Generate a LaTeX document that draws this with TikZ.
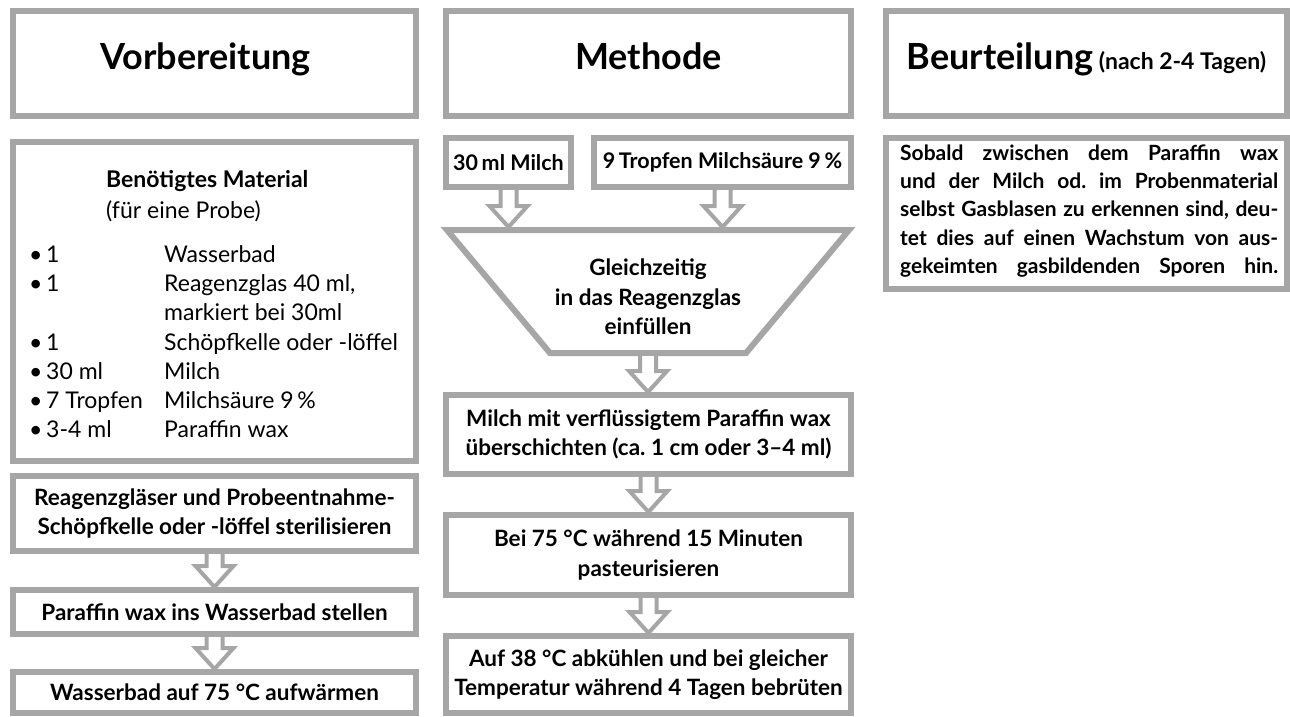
\documentclass[tikz,border=0pt]{standalone}
\usepackage{fontspec}
\setmainfont{Lato}
\usetikzlibrary{calc}
\definecolor{bord}{RGB}{166,166,166}
\frenchspacing
\tikzset{x=1pt,y=-1pt,
  box/.style={draw=bord, line width=6pt, fill=white, inner sep=0pt, line join=miter},
  txt/.style={font=\fontsize{22.5}{29.5}\selectfont\bfseries, align=center},
  stxt/.style={font=\fontsize{21.5}{29}\selectfont\bfseries},
  head/.style={font=\fontsize{36}{40}\selectfont\bfseries, text height=20pt, text depth=9pt},
  lst/.style={font=\fontsize{23}{29}\selectfont, anchor=base west, inner sep=0pt},
  lstb/.style={lst, font=\fontsize{23}{29}\selectfont\bfseries},
  par/.style={font=\fontsize{21}{28}\selectfont\bfseries, anchor=base west, inner sep=0pt},
  arrowline/.style={draw=bord, line width=4pt, fill=white, line join=miter},
  trap/.style={draw=bord, line width=6pt, fill=white, line join=miter}}
% #1 style, #2 name, #3 x1, #4 y1, #5 x2, #6 y2, #7 text
\newcommand{\flowbox}[7][txt]{%
  \node[box,#1,minimum width={(#5-#3-6)*1pt},minimum height={(#6-#4-6)*1pt}] (#2)
    at ({(#3+#5)/2},{(#4+#6)/2}) {#7};}
\newcommand{\flowarrow}[2]{%
  \path[arrowline] let \p1=#1, \p2=#2 in
    (\x1-8pt,\y1) -- (\x1-8pt,\y2+21pt) -- (\x1-19pt,\y2+21pt) -- (\x1,\y2)
    -- (\x1+19pt,\y2+21pt) -- (\x1+8pt,\y2+21pt) -- (\x1+8pt,\y1);}
\newcommand{\jline}[1]{\makebox[378pt][s]{\spaceskip=0.16em plus 1fil\relax #1}}
\begin{document}
\begin{tikzpicture}
\useasboundingbox (0,0) rectangle (1290,716);
\fill[white] (0,0) rectangle (1290,716);

% ---------- headers ----------
\flowbox[head]{hvor}{10}{8}{419}{119}{Vorbereitung\hspace*{18pt}}
\flowbox[head]{hmet}{443}{8}{854}{119}{Methode}
\flowbox[head]{hbeu}{883}{8}{1290}{119}{Beurteilung\hspace{0.15em}{\fontsize{23}{26}\selectfont(nach 2-4 Tagen)}}

% ---------- column 1 ----------
\flowbox{material}{10}{139}{419}{464}{}
\node[lstb] (mattitle) at (106,187) {Benötigtes Material};
\node[lst] (matsub) at (106,218) {(für eine Probe)};
\node[lst] (bu1) at (29,262) {•};
\node[lst] (q1) at (46,262) {1};
\node[lst] (d1) at (164,262) {Wasserbad};
\node[lst] (bu2) at (29,291) {•};
\node[lst] (q2) at (46,291) {1};
\node[lst] (d2) at (164,291) {Reagenzglas 40 ml,};
\node[lst] (d2b) at (164,320) {markiert bei 30ml};
\node[lst] (bu3) at (29,350) {•};
\node[lst] (q3) at (46,350) {1};
\node[lst] (d3) at (164,350) {Schöpfkelle oder -löffel};
\node[lst] (bu4) at (29,379) {•};
\node[lst] (q4) at (46,379) {30 ml};
\node[lst] (d4) at (164,379) {Milch};
\node[lst] (bu5) at (29,408) {•};
\node[lst] (q5) at (46,408) {7 Tropfen};
\node[lst] (d5) at (164,408) {Milchsäure 9\,\%};
\node[lst] (bu6) at (29,437) {•};
\node[lst] (q6) at (46,437) {3-4 ml};
\node[lst] (d6) at (164,437) {Paraffin wax};

\flowbox{steril}{10}{473}{419}{554}{Reagenzgläser und Probeentnahme-\\Schöpfkelle oder -löffel sterilisieren}
\flowbox{wax}{10}{587}{419}{637}{Paraffin wax ins Wasserbad stellen}
\flowbox{warm}{10}{669}{419}{716}{Wasserbad auf 75 °C aufwärmen}
\flowarrow{(steril.south)}{(wax.north)}
\flowarrow{(wax.south)}{(warm.north)}

% ---------- column 2 ----------
\flowbox[stxt]{milk}{443}{135}{574}{190}{30\,ml Milch}
\flowbox[stxt]{acid}{591}{135}{854}{190}{9\,Tropfen Milchsäure 9\,\%}
\draw[trap] (447,230) -- (849,230) -- (746,353) -- (550,353) -- cycle;
\coordinate (mixN) at (648,227);
\coordinate (mixS) at (648,356);
\node[txt] (mix) at (648,297) {Gleichzeitig\\in das Reagenzglas\\einfüllen};
\flowarrow{(milk.south)}{(mixN)}
\flowarrow{(acid.south)}{(mixN)}
\flowbox{layer}{443}{392}{854}{477}{Milch mit verflüssigtem Paraffin wax\\überschichten (ca. 1 cm oder 3–4 ml)}
\flowbox{past}{443}{512}{854}{598}{Bei 75 °C während 15 Minuten\\pasteurisieren}
\flowbox{incub}{443}{633}{854}{716}{Auf 38 °C abkühlen und bei gleicher\\Temperatur während 4 Tagen bebrüten}
\flowarrow{(mixS)}{(layer.north)}
\flowarrow{(layer.south)}{(past.north)}
\flowarrow{(past.south)}{(incub.north)}

% ---------- column 3 ----------
\flowbox{result}{883}{135}{1290}{292}{}
\node[par] (r1) at (900,160) {\jline{Sobald zwischen dem Paraffin wax}};
\node[par] (r2) at (900,188) {\jline{und der Milch od. im Probenmaterial}};
\node[par] (r3) at (900,216.5) {\jline{selbst Gasblasen zu erkennen sind, deu-}};
\node[par] (r4) at (900,245) {\jline{tet dies auf einen Wachstum von aus-}};
\node[par] (r5) at (900,273.5) {\jline{gekeimten gasbildenden Sporen hin.}};
\end{tikzpicture}
\end{document}
